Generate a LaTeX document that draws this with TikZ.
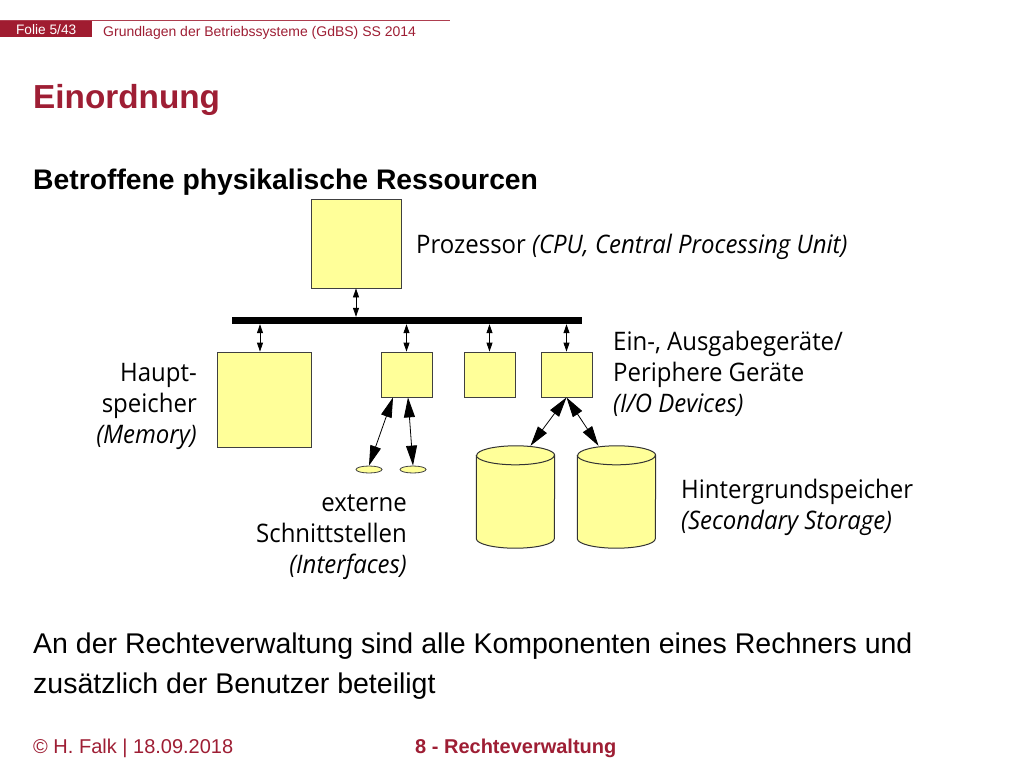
\documentclass[tikz,border=0pt]{standalone}
\usepackage{fontspec}
\setmainfont{Liberation Sans}
\newfontfamily\figfont[FakeStretch=0.94]{Open Sans}
\usetikzlibrary{arrows.meta,shapes.geometric}
\definecolor{slidered}{RGB}{158,30,52}
\definecolor{headred}{RGB}{160,28,48}
\definecolor{boxyellow}{RGB}{255,255,153}
% outline of a standing disk on the box of node #1
\newcommand\drawdisk[1]{%
  \draw[draw=black!80, fill=boxyellow, line width=1pt]
    ([yshift=-9.5pt]#1.north west) -- ([yshift=9.5pt]#1.south west)
    arc[start angle=180, end angle=360, x radius=39pt, y radius=9.5pt]
    -- ([yshift=-9.5pt]#1.north east)
    arc[start angle=0, end angle=180, x radius=39pt, y radius=9.5pt] -- cycle;
  \draw[draw=black!80, line width=1pt] ([yshift=-9.5pt]#1.north west)
    arc[start angle=180, end angle=360, x radius=39pt, y radius=9.5pt];}

\begin{document}
\begin{tikzpicture}[x=1pt, y=-1pt,
  unit/.style={draw=black!75, fill=boxyellow, line width=0.8pt, inner sep=0pt},
  port/.style={ellipse, draw=black!75, fill=boxyellow, line width=0.8pt, inner sep=0pt,
    minimum width=26pt, minimum height=7pt},
  disk/.style={inner sep=0pt, minimum width=78pt, minimum height=102pt},
  link/.style={{Triangle[length=9pt,width=6pt]}-{Triangle[length=9pt,width=6pt]}, line width=0.8pt},
  biglink/.style={{Triangle[length=20pt,width=11pt]}-{Triangle[length=20pt,width=11pt]}, line width=0.8pt},
  lbl/.style={font=\figfont\fontsize{25.5}{31}\selectfont, inner sep=0pt}]
  \useasboundingbox (0,0) rectangle (1024,768);

  % header
  \draw[headred!85, line width=1pt] (0,20.5) -- (450,20.5);
  \node[fill=headred, text=white, anchor=north west, inner sep=0pt, minimum width=92pt,
    minimum height=16pt, font=\fontsize{13.7}{15}\selectfont] (folie) at (0,21) {Folie 5/43};
  \node[anchor=base west, text=slidered, inner sep=0pt, font=\fontsize{14}{15}\selectfont]
    (course) at (103,36.5) {Grundlagen der Betriebssysteme (GdBS) SS 2014};

  \node[anchor=base west, text=slidered, inner sep=0pt, font=\bfseries\fontsize{33.3}{38}\selectfont]
    (title) at (33,108) {Einordnung};
  \node[anchor=base west, inner sep=0pt, font=\bfseries\fontsize{28.3}{32}\selectfont]
    (sub) at (33,189) {Betroffene physikalische Ressourcen};

  % components
  \node[unit, minimum width=90pt, minimum height=89pt] (cpu) at (356,243.5) {};
  \node[fill=black, inner sep=0pt, minimum width=350pt, minimum height=7pt] (bus) at (407,320.5) {};
  \node[unit, minimum width=94pt, minimum height=95pt] (mem) at (264,399.5) {};
  \node[unit, minimum width=51pt, minimum height=45pt] (io1) at (406.5,374.5) {};
  \node[unit, minimum width=51pt, minimum height=45pt] (io2) at (489.5,374.5) {};
  \node[unit, minimum width=51pt, minimum height=45pt] (io3) at (566.5,374.5) {};
  \node[port] (if1) at (369,469.5) {};
  \node[port] (if2) at (413,469.5) {};
  \node[disk] (disk1) at (515.5,497) {};
  \node[disk] (disk2) at (616.5,497) {};
  \drawdisk{disk1}
  \drawdisk{disk2}

  \draw[link] (cpu.south) -- (cpu.south |- bus.north);
  \draw[link] ([xshift=-4pt]bus.south -| mem.north) -- ([xshift=-4pt]mem.north);
  \draw[link] (bus.south -| io1.north) -- (io1.north);
  \draw[link] (bus.south -| io2.north) -- (io2.north);
  \draw[link] (bus.south -| io3.north) -- (io3.north);
  \draw[biglink] ([xshift=-13.5pt]io1.south) -- (if1.north);
  \draw[biglink] ([xshift=1.5pt]io1.south) -- (if2.north);
  \draw[biglink] (io3.south) -- ([xshift=15pt]disk1.north);
  \draw[biglink] (io3.south) -- ([xshift=-18pt]disk2.north);

  % labels
  \node[lbl, anchor=base west] (cpulabel) at (416,253)
    {Prozessor \textit{(CPU, Central Processing Unit)}};
  \node[lbl, anchor=base east, align=right] (memlabel) at (197,443)
    {Haupt-\\speicher\\\textit{(Memory)}};
  \node[lbl, anchor=base west, align=left] (iolabel) at (613,412)
    {Ein-, Ausgabegeräte/\\Periphere Geräte\\\textit{(I/O Devices)}};
  \node[lbl, anchor=base east, align=right] (iflabel) at (407,573)
    {externe\\Schnittstellen\\\textit{(Interfaces)}};
  \node[lbl, anchor=base west, align=left] (disklabel) at (681,529)
    {Hintergrundspeicher\\\textit{(Secondary Storage)}};

  % bottom text
  \node[anchor=base west, align=left, inner sep=0pt, font=\fontsize{28.5}{40}\selectfont]
    (note) at (33,693) {An der Rechteverwaltung sind alle Komponenten eines Rechners und\\
    zusätzlich der Benutzer beteiligt};

  % footer
  \node[anchor=base west, text=slidered, inner sep=0pt, font=\fontsize{20}{24}\selectfont]
    (author) at (33,753) {© H. Falk | 18.09.2018};
  \node[anchor=base west, text=slidered, inner sep=0pt, font=\bfseries\fontsize{20}{24}\selectfont]
    (chapter) at (415,753) {8 - Rechteverwaltung};
\end{tikzpicture}
\end{document}
